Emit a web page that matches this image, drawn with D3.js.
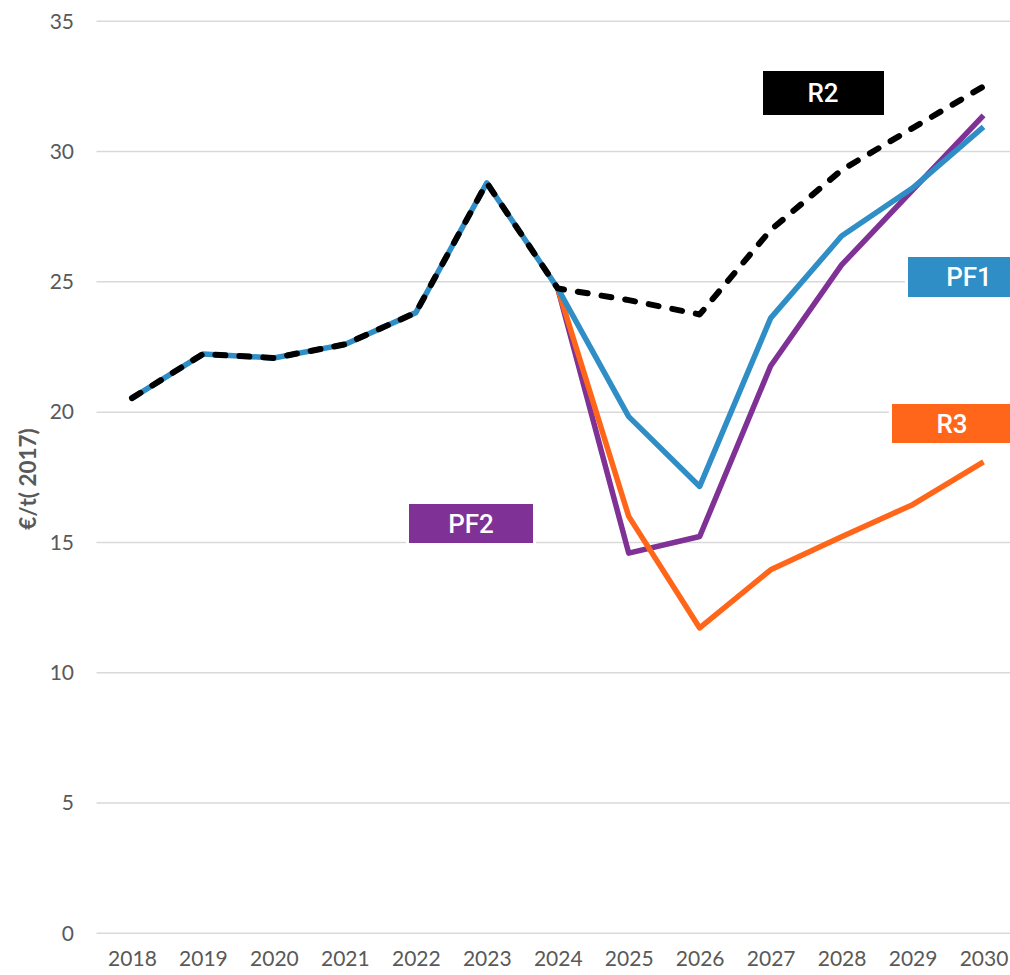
<!DOCTYPE html>
<html>
<head>
<meta charset="utf-8">
<script src="https://cdn.jsdelivr.net/npm/d3@7"></script>
<style>
  html, body { margin: 0; padding: 0; background: #fff; }
  svg { display: block; }
</style>
</head>
<body>
<svg id="chart" width="1010" height="975"></svg>
<script>
const years = ["2018","2019","2020","2021","2022","2023","2024","2025","2026","2027","2028","2029","2030"];
const yTicks = [0, 5, 10, 15, 20, 25, 30, 35];
const common = [20.54, 22.23, 22.08, 22.6, 23.82, 28.8, 24.75];
const r2  = common.concat([24.3, 23.75, 26.99, 29.29, 30.9, 32.5]);
const pf1 = common.concat([19.83, 17.15, 23.61, 26.76, 28.6, 30.95]);
const pf2 = [null, null, null, null, null, null, 24.75, 14.59, 15.23, 21.77, 25.65, 28.52, 31.39];
const r3  = [null, null, null, null, null, null, 24.75, 16.0, 11.72, 13.95, 15.22, 16.45, 18.09];
const seriesNames = ["PF2", "R3", "PF1", "R2"];
const seriesColors = {PF2: "#7f3196", R3: "#ff661a", PF1: "#2e8ec5", R2: "#000000"};
const seriesValues = {PF2: pf2, R3: r3, PF1: pf1, R2: r2};
const yTitle = "€/t( 2017)";

const svg = d3.select("#chart");
const x = d3.scalePoint().domain(years).range([96.5, 1019]).padding(0.5);
const y = d3.scaleLinear().domain([0, 35]).range([933.3, 21.3]);

// gridlines
svg.append("g").selectAll("line").data(yTicks).join("line")
  .attr("x1", 96.5).attr("x2", 1019)
  .attr("y1", d => y(d)).attr("y2", d => y(d))
  .attr("stroke", "#d9d9d9").attr("stroke-width", 1.5);

// y axis labels
const yAxis = d3.axisLeft(y).tickValues(yTicks).tickSize(0).tickPadding(0);
const gy = svg.append("g").attr("transform", "translate(74,0)").call(yAxis);
gy.select(".domain").remove();
gy.selectAll("text").attr("font-family", "Lato, 'Open Sans', sans-serif").attr("font-size", 21).attr("fill", "#595959");

// x axis labels
const xAxis = d3.axisBottom(x).tickSize(0).tickPadding(0);
const gx = svg.append("g").attr("transform", "translate(0,951)").call(xAxis);
gx.select(".domain").remove();
gx.selectAll("text").attr("font-family", "Lato, 'Open Sans', sans-serif").attr("font-size", 21).attr("fill", "#595959");

// y title
svg.append("text")
  .attr("transform", "translate(28,479) rotate(-90)")
  .attr("text-anchor", "middle")
  .attr("dy", "0.35em")
  .attr("font-family", "Lato, 'Open Sans', sans-serif")
  .attr("font-weight", "bold")
  .attr("font-size", 22.5)
  .attr("fill", "#595959")
  .text(yTitle);

// lines
const line = d3.line()
  .defined(d => d.v != null)
  .x(d => x(d.year)).y(d => y(d.v));

seriesNames.forEach(name => {
  const data = years.map((yr, i) => ({year: yr, v: seriesValues[name][i]}));
  const p = svg.append("path")
    .datum(data)
    .attr("d", line)
    .attr("fill", "none")
    .attr("stroke", seriesColors[name])
    .attr("stroke-width", 5.5)
    .attr("stroke-linejoin", "round");
  if (name === "R2") {
    p.attr("stroke-dasharray", "10,14").attr("stroke-linecap", "round").attr("stroke-width", 6);
  }
});

// label boxes
const labels = [
  {name: "R2", x0: 763, x1: 884, y0: 71, y1: 115},
  {name: "PF1", x0: 908, x1: 1012, y0: 257, y1: 297},
  {name: "R3", x0: 892, x1: 1012, y0: 404, y1: 443},
  {name: "PF2", x0: 409, x1: 533, y0: 504, y1: 543}
];
labels.forEach(l => {
  svg.append("rect")
    .attr("x", l.x0 - 3).attr("y", l.y0 - 3)
    .attr("width", l.x1 - l.x0 + 6).attr("height", l.y1 - l.y0 + 6)
    .attr("fill", "#fff");
  svg.append("rect")
    .attr("x", l.x0).attr("y", l.y0)
    .attr("width", l.x1 - l.x0).attr("height", l.y1 - l.y0)
    .attr("fill", seriesColors[l.name]);
});
const textPos = {R2: 823, PF1: 969, R3: 952, PF2: 471};
labels.forEach(l => {
  svg.append("text")
    .attr("x", textPos[l.name]).attr("y", (l.y0 + l.y1) / 2)
    .attr("dy", "0.36em")
    .attr("text-anchor", "middle")
    .attr("font-family", "Roboto, 'Liberation Sans', sans-serif")
    .attr("font-weight", 500)
    .attr("font-size", 26)
    .attr("fill", "#fff")
    .text(l.name);
});
</script>
</body>
</html>
